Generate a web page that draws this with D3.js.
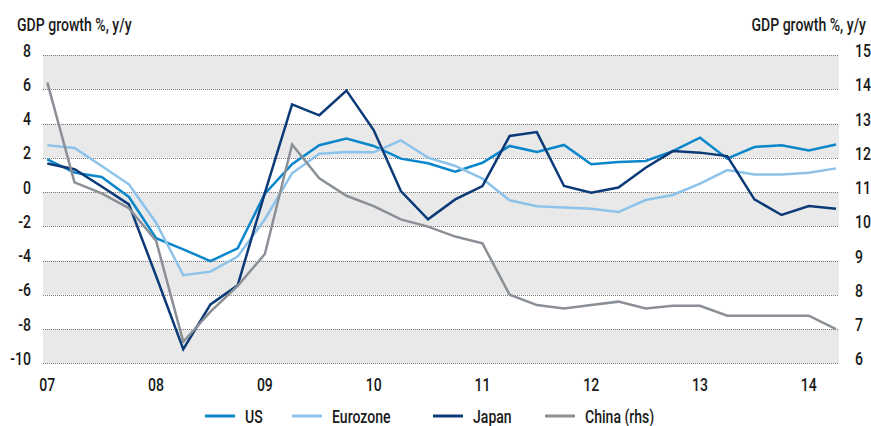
<!DOCTYPE html>
<html>
<head>
<meta charset="utf-8">
<script src="https://cdn.jsdelivr.net/npm/d3@7"></script>
<style>
  body { margin: 0; background: #fff; }
  svg text { font-family: Roboto, "Noto Sans", sans-serif; font-size: 19px; font-weight: 500; fill: #1a1a1a; }
</style>
</head>
<body>
<svg id="chart" width="871" height="426"></svg>
<script>
// quarterly data, 2007 Q1 .. 2014 Q2
var yearLabels = ["07", "08", "09", "10", "11", "12", "13", "14"];
var leftTicks = [8, 6, 4, 2, 0, -2, -4, -6, -8, -10];
var rightTicks = [15, 14, 13, 12, 11, 10, 9, 8, 7, 6];

var us = [1.9, 1.13, 0.88, -0.29, -2.7, -3.35, -4.03, -3.29, -0.1, 1.62,
          2.73, 3.12, 2.69, 1.95, 1.68, 1.19, 1.71, 2.69, 2.34, 2.75,
          1.62, 1.75, 1.81, 2.39, 3.17, 1.95, 2.63, 2.73, 2.42, 2.77];
var eurozone = [2.73, 2.57, 1.52, 0.45, -1.79, -4.86, -4.65, -3.77, -1.59, 1.09,
                2.24, 2.34, 2.32, 3.02, 2.01, 1.52, 0.78, -0.48, -0.83, -0.91,
                -0.97, -1.17, -0.47, -0.17, 0.49, 1.28, 1.02, 1.02, 1.13, 1.38];
var japan = [1.66, 1.33, 0.32, -0.72, -4.9, -9.18, -6.56, -5.45, -0.05, 5.12,
             4.48, 5.92, 3.62, 0.06, -1.59, -0.43, 0.35, 3.27, 3.5, 0.35,
             -0.04, 0.26, 1.42, 2.39, 2.3, 2.1, -0.43, -1.34, -0.82, -0.97];
var china = [14.2, 11.28, 10.96, 10.53, 9.58, 6.63, 7.51, 8.26, 9.19, 12.39,
             11.4, 10.89, 10.59, 10.2, 9.99, 9.7, 9.5, 8.0, 7.7, 7.6,
             7.7, 7.8, 7.6, 7.68, 7.68, 7.39, 7.39, 7.39, 7.39, 7.0];

var series = [
    { name: "US", values: us, color: "#0a87cb", axis: "left" },
    { name: "Eurozone", values: eurozone, color: "#8dc3ea", axis: "left" },
    { name: "Japan", values: japan, color: "#0b3a77", axis: "left" },
    { name: "China (rhs)", values: china, color: "#8a9096", axis: "right" }
];

var svg = d3.select("#chart");

var plotLeft = 43, plotRight = 839;
var x = d3.scaleLinear().domain([0, us.length - 1]).range([47.3, 836]);
var yL = d3.scaleLinear().domain([-10, 8]).range([363.3, 55]);
var yR = d3.scaleLinear().domain([6, 15]).range([363.3, 55]);

// no condensed font installed, so squeeze the glyphs horizontally
var squeeze = 0.74;
function label(parent, px, py, str, anchor) {
    var g = parent.append("g")
        .attr("transform", "translate(" + px + "," + py + ") scale(" + squeeze + ",1)");
    g.append("text")
        .attr("text-anchor", anchor || "start")
        .text(str);
    return g;
}

// shaded bands, every other interval
for (var i = 0; i < leftTicks.length - 1; i += 2) {
    svg.append("rect")
        .attr("x", plotLeft)
        .attr("y", yL(leftTicks[i]))
        .attr("width", plotRight - plotLeft)
        .attr("height", yL(leftTicks[i + 1]) - yL(leftTicks[i]))
        .style("fill", "#e9e9e9");
}

// dotted gridlines
svg.selectAll(".grid")
    .data(leftTicks)
    .enter().append("line")
    .attr("class", "grid")
    .attr("x1", plotLeft)
    .attr("x2", plotRight)
    .attr("y1", function (d) { return Math.round(yL(d)) + 0.5; })
    .attr("y2", function (d) { return Math.round(yL(d)) + 0.5; })
    .style("stroke", "#7a7a7a")
    .style("stroke-width", 1)
    .style("stroke-dasharray", "1,1");

// axis titles
label(svg, 17, 31, "GDP growth %, y/y");
label(svg, 866, 31, "GDP growth %, y/y", "end");

// tick labels, baseline just under the gridline
leftTicks.forEach(function (d) {
    label(svg, 31, yL(d) + 1.5, d, "end");
});
rightTicks.forEach(function (d) {
    label(svg, 855, yR(d) + 2, d);
});
yearLabels.forEach(function (d, i) {
    label(svg, x(i * 4), 391, d, "middle");
});

// lines
series.forEach(function (s) {
    var yScale = s.axis == "left" ? yL : yR;
    var line = d3.line()
        .x(function (d, i) { return x(i); })
        .y(function (d) { return yScale(d); });
    svg.append("path")
        .datum(s.values)
        .attr("d", line)
        .style("fill", "none")
        .style("stroke", s.color)
        .style("stroke-width", 2.5)
        .style("stroke-linejoin", "miter");
});

// legend
var legendX = [205, 292, 433, 545];
series.forEach(function (s, i) {
    var g = svg.append("g")
        .attr("class", "legend")
        .attr("transform", "translate(" + legendX[i] + ",416)");
    g.append("line")
        .attr("x1", 0).attr("x2", 30)
        .attr("y1", 0).attr("y2", 0)
        .style("stroke", s.color)
        .style("stroke-width", 3);
    label(g, 40, 6.5, s.name);
});
</script>
</body>
</html>
